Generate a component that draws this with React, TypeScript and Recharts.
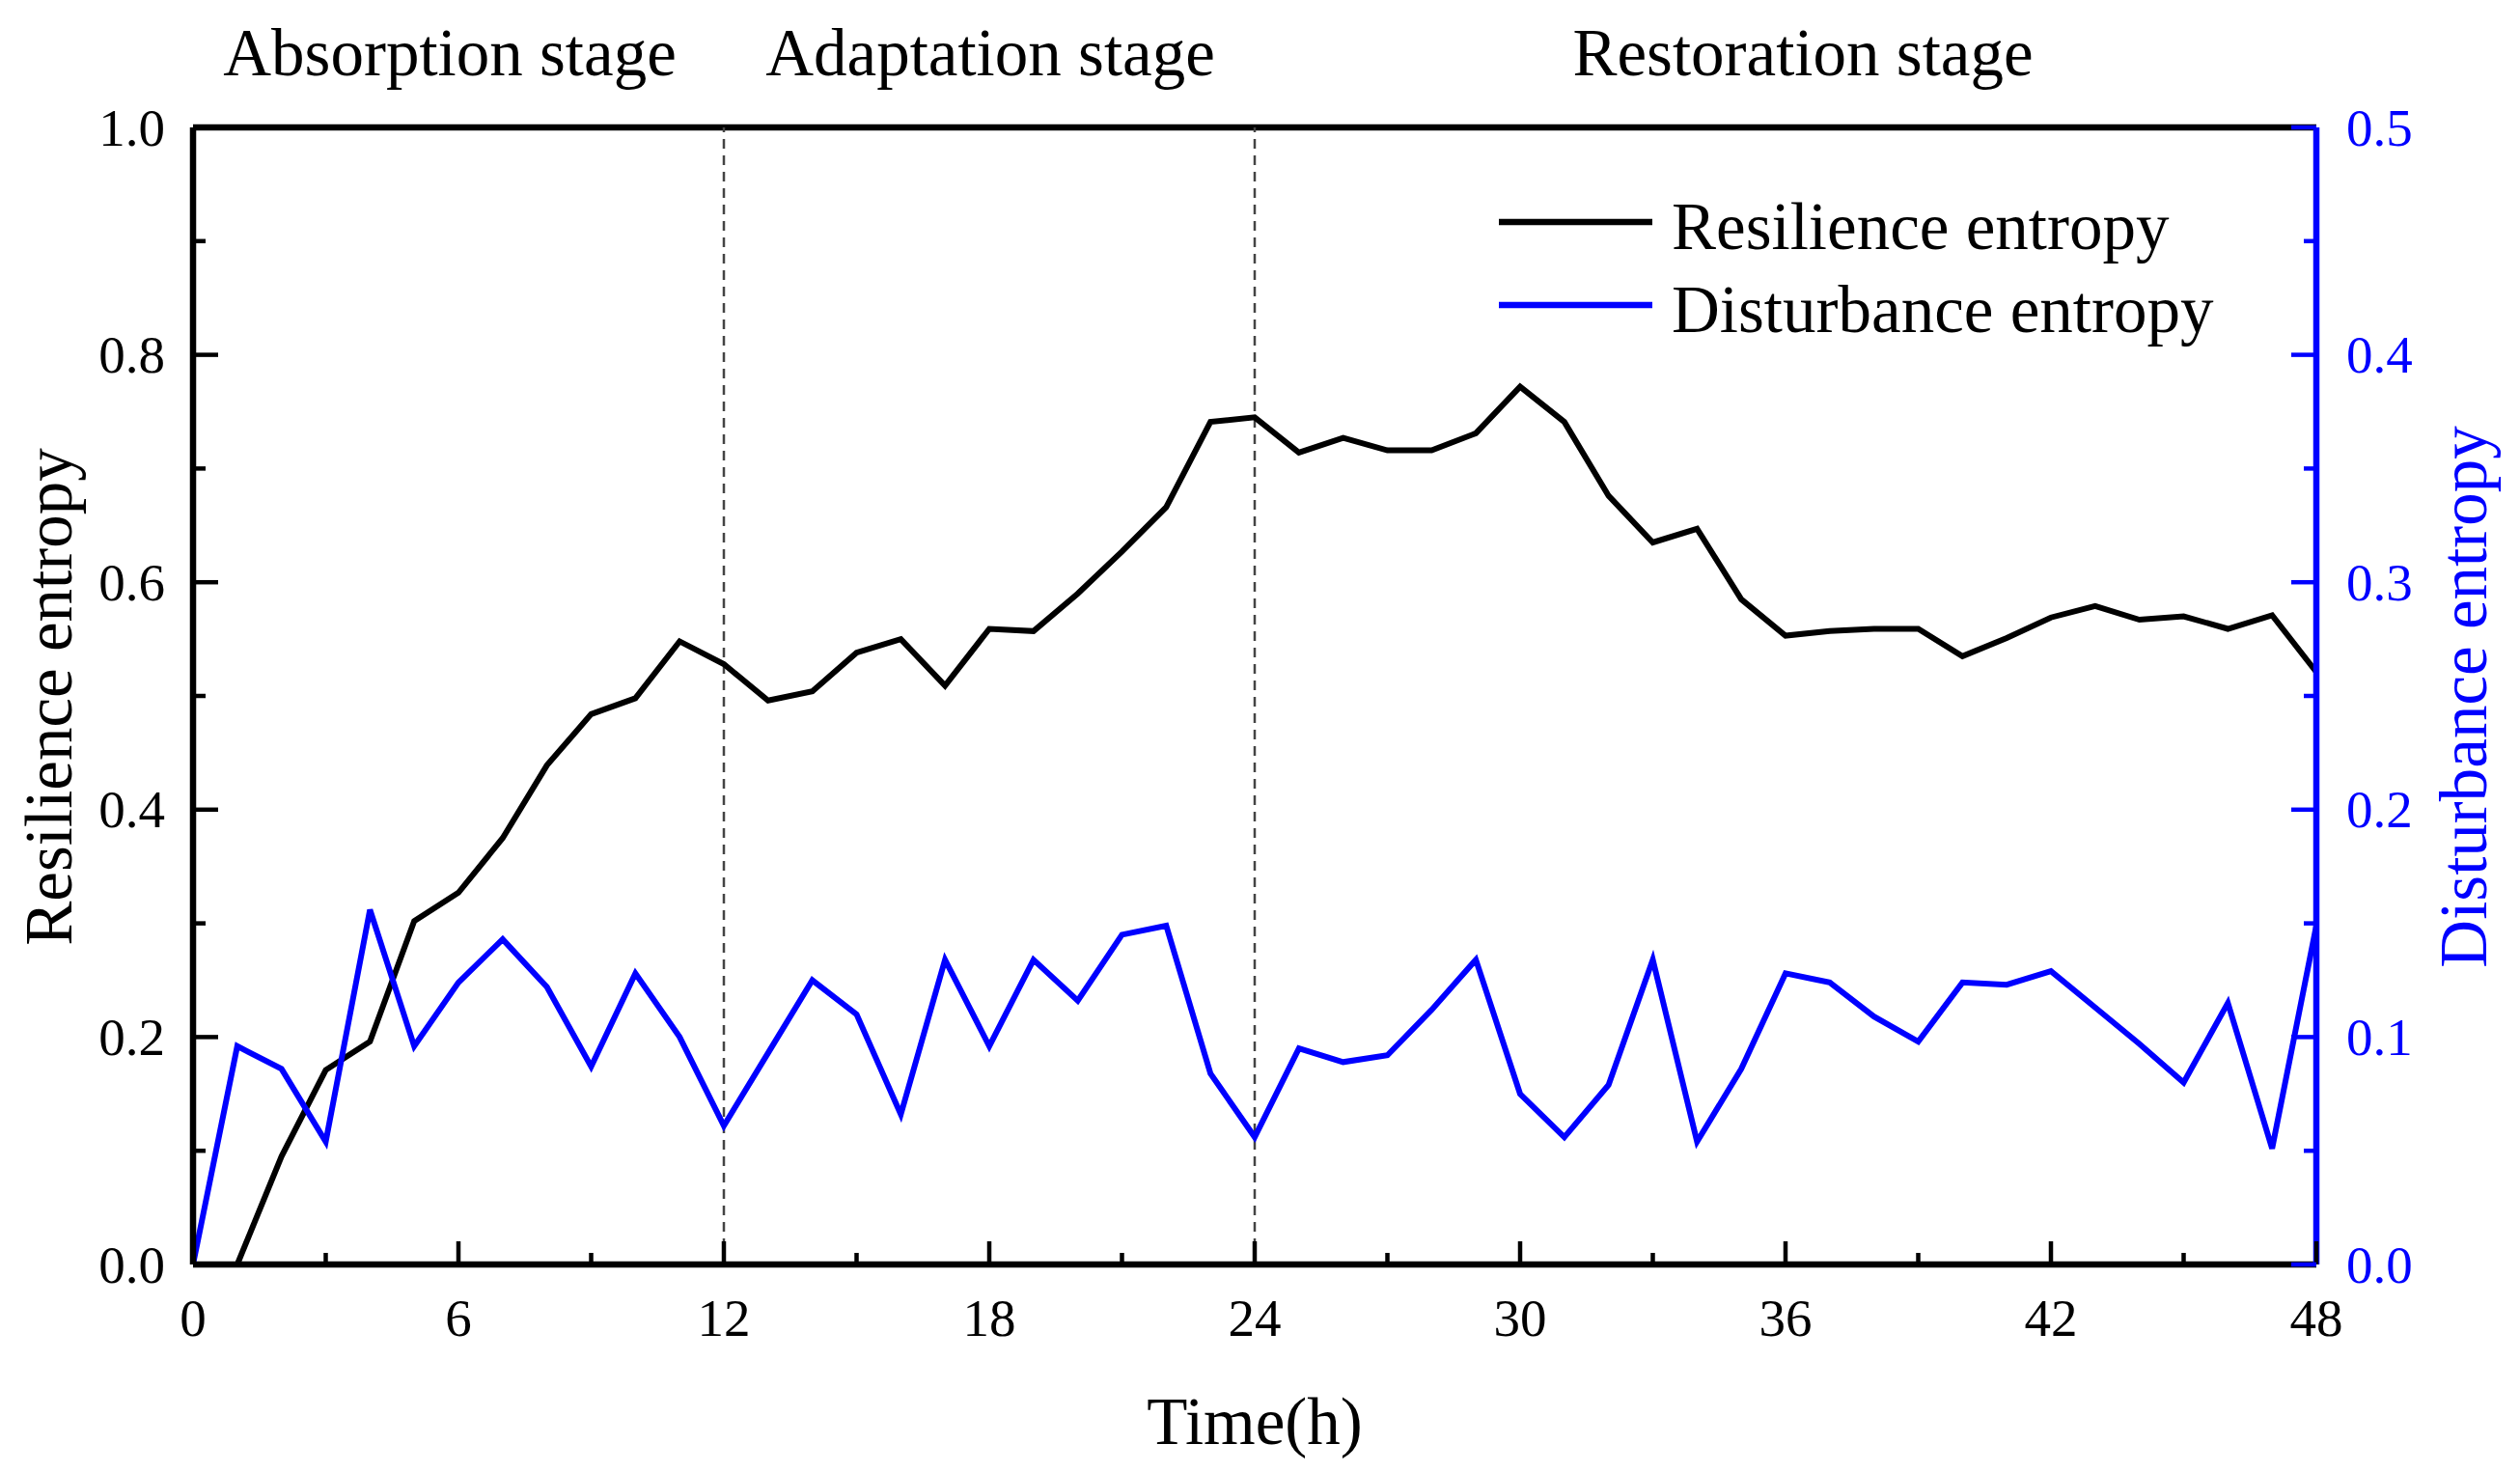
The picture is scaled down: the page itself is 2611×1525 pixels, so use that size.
import React from 'react';
import { LineChart, Line, XAxis, YAxis, ReferenceLine, Legend } from 'recharts';

const hours = [0, 1, 2, 3, 4, 5, 6, 7, 8, 9, 10, 11, 12, 13, 14, 15, 16, 17, 18, 19, 20, 21, 22, 23, 24, 25, 26, 27, 28, 29, 30, 31, 32, 33, 34, 35, 36, 37, 38, 39, 40, 41, 42, 43, 44, 45, 46, 47, 48];

const resilience = [null, 0.0, 0.095, 0.171, 0.196, 0.302, 0.327, 0.375, 0.439, 0.484, 0.498, 0.548, 0.528, 0.496, 0.504, 0.538, 0.55, 0.509, 0.559, 0.557, 0.59, 0.627, 0.666, 0.741, 0.745, 0.714, 0.727, 0.716, 0.716, 0.731, 0.772, 0.741, 0.676, 0.635, 0.647, 0.585, 0.553, 0.557, 0.559, 0.559, 0.535, 0.551, 0.569, 0.579, 0.567, 0.57, 0.559, 0.571, 0.521];

const disturbance = [0, 0.096, 0.086, 0.054, 0.156, 0.096, 0.124, 0.143, 0.122, 0.087, 0.128, 0.1, 0.061, 0.093, 0.125, 0.11, 0.066, 0.134, 0.096, 0.134, 0.116, 0.145, 0.149, 0.084, 0.056, 0.095, 0.089, 0.092, 0.112, 0.134, 0.075, 0.056, 0.079, 0.134, 0.054, 0.086, 0.128, 0.124, 0.109, 0.098, 0.124, 0.123, 0.129, 0.113, 0.097, 0.08, 0.115, 0.051, 0.149];

const xTicks = [0, 3, 6, 9, 12, 15, 18, 21, 24, 27, 30, 33, 36, 39, 42, 45, 48];
const leftTicks = [0, 0.1, 0.2, 0.3, 0.4, 0.5, 0.6, 0.7, 0.8, 0.9, 1.0];
const rightTicks = [0, 0.05, 0.1, 0.15, 0.2, 0.25, 0.3, 0.35, 0.4, 0.45, 0.5];
const stageBoundaries = [12, 24];
const stageLabels = ['Absorption stage', 'Adaptation stage', 'Restoration stage'];
const seriesNames = ['Resilience entropy', 'Disturbance entropy'];

const data = hours.map((h, i) => ({ h, res: resilience[i], dis: disturbance[i] }));

const FONT = '"Liberation Serif", "Times New Roman", serif';
const BLUE = '#0000FF';
const TITLE = 69;
const TICK = 55;

const LeftTick = (props: any) => {
  const { x, y, payload } = props;
  const v = payload.value;
  const major = Math.round(v * 10) % 2 === 0;
  return (
    <g>
      <line x1={x} x2={x + (major ? 26 : 13)} y1={y} y2={y} stroke="#000" strokeWidth={4.5} />
      {major && (
        <text x={x - 29} y={y} textAnchor="end" dominantBaseline="central" fontFamily={FONT} fontSize={TICK} fill="#000">
          {v.toFixed(1)}
        </text>
      )}
    </g>
  );
};

const RightTick = (props: any) => {
  const { x, y, payload } = props;
  const v = payload.value;
  const major = Math.round(v * 20) % 2 === 0;
  return (
    <g>
      <line x1={x} x2={x - (major ? 26 : 13)} y1={y} y2={y} stroke={BLUE} strokeWidth={4.5} />
      {major && (
        <text x={x + 31} y={y} textAnchor="start" dominantBaseline="central" fontFamily={FONT} fontSize={TICK} fill={BLUE}>
          {v.toFixed(1)}
        </text>
      )}
    </g>
  );
};

const BottomTick = (props: any) => {
  const { x, y, payload } = props;
  const v = payload.value;
  const major = v % 6 === 0;
  return (
    <g>
      <line x1={x} x2={x} y1={y} y2={y - (major ? 24 : 12)} stroke="#000" strokeWidth={4.5} />
      {major && (
        <text x={x} y={y + 55} textAnchor="middle" dominantBaseline="central" fontFamily={FONT} fontSize={TICK} fill="#000">
          {v}
        </text>
      )}
    </g>
  );
};

const renderLegend = (props: any) => {
  const payload = [...(props.payload || [])].sort(
    (a: any, b: any) => seriesNames.indexOf(a.value) - seriesNames.indexOf(b.value)
  );
  return (
    <svg width={820} height={200} style={{ display: 'block' }}>
      {payload.map((entry: any, i: number) => (
        <g key={i}>
          <line x1={13} x2={172} y1={50 + i * 86} y2={50 + i * 86} stroke={entry.color} strokeWidth={6.5} />
          <text x={192} y={78 + i * 86} fontFamily={FONT} fontSize={TITLE} fill="#000">
            {entry.value}
          </text>
        </g>
      ))}
    </svg>
  );
};

export default function App() {
  return (
    <div style={{ position: 'absolute', left: 0, top: 0, width: 2611, height: 1525, background: '#fff' }}>
      <LineChart
        width={2611}
        height={1525}
        data={data}
        margin={{ top: 132, right: 0, bottom: 0, left: 0 }}
      >
        <XAxis
          dataKey="h"
          type="number"
          domain={[0, 48]}
          ticks={xTicks}
          interval={0}
          height={215}
          tickSize={0}
          tickMargin={0}
          tickLine={false}
          tick={<BottomTick />}
          axisLine={{ stroke: '#000', strokeWidth: 6.5 }}
          label={() => (
            <text x={1300} y={1496} textAnchor="middle" fontFamily={FONT} fontSize={TITLE} fill="#000">
              Time(h)
            </text>
          )}
        />
        <YAxis
          yAxisId="left"
          orientation="left"
          domain={[0, 1]}
          ticks={leftTicks}
          interval={0}
          width={200}
          tickSize={0}
          tickMargin={0}
          tickLine={false}
          tick={<LeftTick />}
          axisLine={{ stroke: '#000', strokeWidth: 6.5 }}
          label={() => (
            <text x={74} y={722} transform="rotate(-90 74 722)" textAnchor="middle" fontFamily={FONT} fontSize={TITLE} fill="#000">
              Resilience entropy
            </text>
          )}
        />
        <YAxis
          yAxisId="right"
          orientation="right"
          domain={[0, 0.5]}
          ticks={rightTicks}
          interval={0}
          width={211}
          tickSize={0}
          tickMargin={0}
          tickLine={false}
          tick={<RightTick />}
          axisLine={{ stroke: BLUE, strokeWidth: 6.5 }}
          label={() => (
            <text x={2576} y={722} transform="rotate(-90 2576 722)" textAnchor="middle" fontFamily={FONT} fontSize={TITLE} fill={BLUE}>
              Disturbance entropy
            </text>
          )}
        />
        <ReferenceLine yAxisId="left" y={1} stroke="#000" strokeWidth={6.5} />
        {stageBoundaries.map((b) => (
          <ReferenceLine key={b} yAxisId="left" x={b} stroke="#444" strokeWidth={2.5} strokeDasharray="10 7" />
        ))}
        <Line
          yAxisId="left"
          type="linear"
          dataKey="res"
          name={seriesNames[0]}
          stroke="#000"
          strokeWidth={6}
          dot={false}
          isAnimationActive={false}
        />
        <Line
          yAxisId="right"
          type="linear"
          dataKey="dis"
          name={seriesNames[1]}
          stroke={BLUE}
          strokeWidth={6}
          dot={false}
          isAnimationActive={false}
        />
        <Legend
          layout="vertical"
          verticalAlign="middle"
          align="center"
          content={renderLegend}
          wrapperStyle={{ position: 'absolute', left: 1540, top: 180, width: 820, height: 200 }}
        />
      </LineChart>
      <svg width={2611} height={130} style={{ position: 'absolute', left: 0, top: 0, pointerEvents: 'none' }}>
        <text x={466} y={78} textAnchor="middle" fontFamily={FONT} fontSize={TITLE} fill="#000">{stageLabels[0]}</text>
        <text x={1026} y={78} textAnchor="middle" fontFamily={FONT} fontSize={TITLE} fill="#000">{stageLabels[1]}</text>
        <text x={1868} y={78} textAnchor="middle" fontFamily={FONT} fontSize={TITLE} fill="#000">{stageLabels[2]}</text>
      </svg>
    </div>
  );
}
